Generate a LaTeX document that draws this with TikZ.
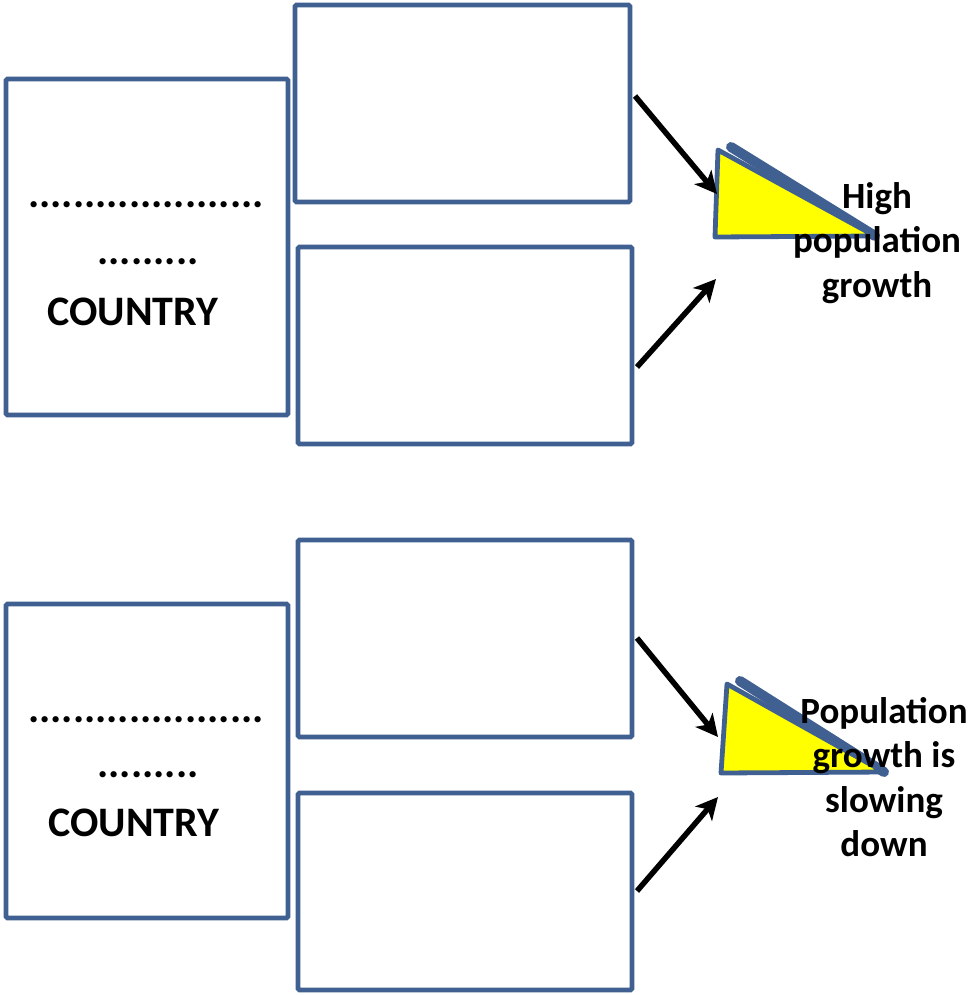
\documentclass[tikz,border=0pt]{standalone}
\usepackage{fontspec}
\setmainfont{Carlito}
\usetikzlibrary{arrows.meta}
\definecolor{boxblue}{HTML}{3F6090}
\definecolor{triyellow}{HTML}{FFFF00}
\tikzset{
  box/.style={draw=boxblue, line width=4.8pt, fill=white, inner sep=0pt, rounded corners=1.5pt},
  arr/.style={draw=black, line width=5.5pt, -{Stealth[length=22pt,width=22pt,inset=6pt]}},
  tri/.style={draw=boxblue, line width=4.8pt, fill=triyellow, line join=round},
  hyp/.style={draw=boxblue, line width=10pt, line cap=round},
  lbl/.style={font=\bfseries\fontsize{37}{44.5}\selectfont, align=center, inner sep=0pt},
  ctext/.style={font=\bfseries\fontsize{42}{48}\selectfont, inner sep=0pt}
}
\begin{document}
\begin{tikzpicture}[x=1pt,y=-1pt]
\useasboundingbox (0,0) rectangle (971,995);
% ---------- top group ----------
\node[box, minimum width=282pt, minimum height=336pt] (L1) at (147,247) {};
\node[box, minimum width=335pt, minimum height=197pt] (A1) at (462.5,103.5) {};
\node[box, minimum width=334pt, minimum height=197pt] (B1) at (465,345.5) {};
\node[ctext] (d1a) at (146,205) {.....................};
\node[ctext] (d1b) at (148,262) {.........};
\node[ctext] (c1) at (133,312) {COUNTRY};
% triangle
\coordinate (T1a) at (718,150);
\coordinate (T1b) at (715,237);
\coordinate (T1c) at (875,236);
\coordinate (T1h) at (731,147);
\draw[hyp] (T1h) -- (T1c);
\draw[tri] (T1a) -- (T1b) -- (T1c) -- cycle;
\node[lbl] (t1) at (877,243) {High\\population\\growth};
% arrows
\coordinate (s1a) at (635,96);
\coordinate (e1a) at (717,194);
\coordinate (s1b) at (637,367);
\coordinate (e1b) at (716,279);
\draw[arr] (s1a) -- (e1a);
\draw[arr] (s1b) -- (e1b);
% ---------- bottom group ----------
\node[box, minimum width=282pt, minimum height=314pt] (L2) at (147,761) {};
\node[box, minimum width=334pt, minimum height=197pt] (A2) at (465,638.5) {};
\node[box, minimum width=334pt, minimum height=197pt] (B2) at (465,891.5) {};
\node[ctext] (d2a) at (146,720) {.....................};
\node[ctext] (d2b) at (148,775) {.........};
\node[ctext] (c2) at (134,823) {COUNTRY};
\coordinate (T2a) at (727,684);
\coordinate (T2b) at (721,773);
\coordinate (T2c) at (884,772);
\coordinate (T2h) at (740,681);
\draw[hyp] (T2h) -- (T2c);
\draw[tri] (T2a) -- (T2b) -- (T2c) -- cycle;
\node[lbl] (t2) at (884,777) {Population\\growth is\\slowing\\down};
\coordinate (s2a) at (637,638);
\coordinate (e2a) at (718,737);
\coordinate (s2b) at (637,891);
\coordinate (e2b) at (718,797);
\draw[arr] (s2a) -- (e2a);
\draw[arr] (s2b) -- (e2b);
\end{tikzpicture}
\end{document}
